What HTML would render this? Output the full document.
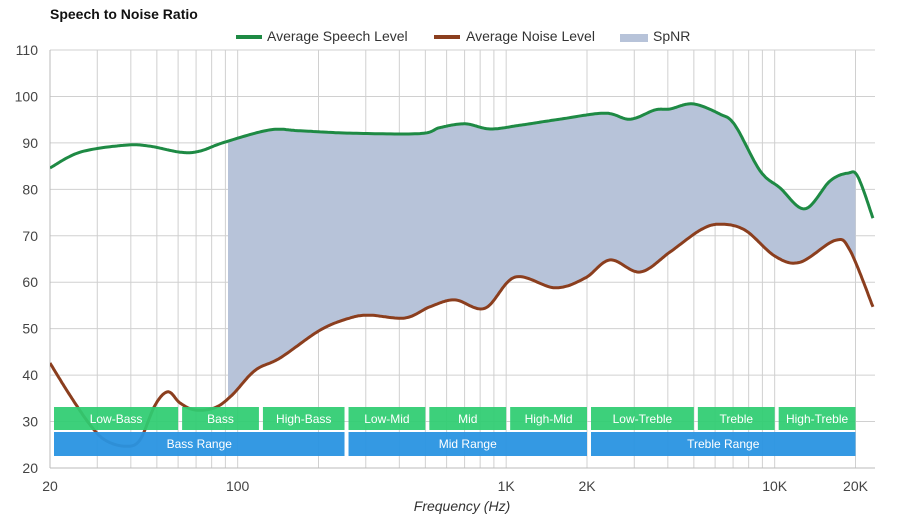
<!DOCTYPE html>
<html><head><meta charset="utf-8"><style>
body{margin:0;background:#fff;font-family:"Liberation Sans",sans-serif}
svg text{font-family:"Liberation Sans",sans-serif}
</style></head><body>
<svg id="c" width="900" height="520">
<defs><clipPath id="cp"><rect x="50" y="40" width="825" height="428"/></clipPath></defs>
<text x="50" y="19" font-size="14" font-weight="bold" fill="#111">Speech to Noise Ratio</text>
<g font-size="14" fill="#333">
<g><rect x="236" y="35" width="26" height="4" fill="#1e8a44"/><text x="267" y="41">Average Speech Level</text></g>
<g><rect x="434" y="35" width="26" height="4" fill="#8b3e1e"/><text x="466" y="41">Average Noise Level</text></g>
<g><rect x="620" y="34" width="28" height="8" fill="#b7c3d9"/><text x="653" y="41">SpNR</text></g>
</g>
<g id="grid"></g><g id="fill"></g><g id="lines"></g><g id="bands"></g><g id="axes"></g>
<text x="462" y="511" font-size="14" font-style="italic" text-anchor="middle" fill="#333">Frequency (Hz)</text>
</svg>
<script>
const speechF=[20,25.9,38,47,61,72,90,132,171,262,477,567,703,871,1125,1585,2333,2891,3583,4074,4963,6252,7117,8820,10470,12970,16070,18750,20420,23230];
const speechV=[84.6,88,89.5,89.3,88,88.2,90.2,92.8,92.6,92.1,92,93.3,94.1,93,93.8,95.1,96.4,95.1,97.1,97.3,98.4,96.2,93.8,84,80.3,75.8,81.8,83.5,82.7,73.8];
const noiseF=[20,23.7,28.2,32.1,38,43.2,49.2,55,61,69.3,82.4,95.3,116,144,203,262,311,420,520,644,834,1079,1521,1968,2438,3155,4074,5276,6252,7762,10030,12420,16790,19060,23230];
const noiseV=[42.6,35.7,29.3,26,24.7,26,33.5,36.4,34,32.5,33,35.7,41,43.7,49.7,52.3,52.9,52.3,54.7,56.2,54.4,61.1,58.8,60.9,64.8,62.2,66.5,71.2,72.5,71.2,65.6,64.3,69,66.9,54.7];
const yTicks=[20,30,40,50,60,70,80,90,100,110];
const xLabels=[[20,"20"],[100,"100"],[1000,"1K"],[2000,"2K"],[10000,"10K"],[20000,"20K"]];
const bandNames=["Low-Bass","Bass","High-Bass","Low-Mid","Mid","High-Mid","Low-Treble","Treble","High-Treble"];
const bandEdges=[20,60,120,250,500,1000,2000,5000,10000,20000];
const rangeNames=["Bass Range","Mid Range","Treble Range"];
const rangeEdges=[20,250,2000,20000];
const fillFrom=92,fillTo=20000;
const L=50,R=875,T=50,B=468,NS="http://www.w3.org/2000/svg";
const X=f=>L+(Math.log10(f)-Math.log10(20))*268.5;
const Y=v=>B-(v-20)*(B-T)/90;
function mk(p,t,a){const e=document.createElementNS(NS,t);for(const k in a)e.setAttribute(k,a[k]);p.appendChild(e);return e;}
const g=document.getElementById('grid');
yTicks.forEach(v=>{const l=mk(g,'line',{x1:L,x2:R,y1:Y(v),y2:Y(v),stroke:'#d0d0d0'});


const t=mk(g,'text',{x:38,y:Y(v)+5,'font-size':14,'text-anchor':'end',fill:'#444'});t.textContent=v;

});
for(let d=10;d<=10000;d*=10)for(let m=1;m<10;m++){const f=d*m;if(f<20||f>23000)continue;
const l=mk(g,'line',{x1:X(f),x2:X(f),y1:T,y2:B,stroke:'#d0d0d0'});

}
mk(g,'line',{x1:L,x2:L,y1:T,y2:B,stroke:'#bbb'});mk(g,'line',{x1:L,x2:R,y1:B,y2:B,stroke:'#bbb'});
xLabels.forEach(([f,s])=>{const t=mk(g,'text',{x:X(f),y:491,'font-size':14,'text-anchor':'middle',fill:'#444'});t.textContent=s;

});
function sample(F,V){const P=F.map((f,i)=>[X(f),Y(V[i])]);const out=[];
for(let i=0;i<P.length-1;i++){const p0=P[Math.max(0,i-1)],p1=P[i],p2=P[i+1],p3=P[Math.min(P.length-1,i+2)];
for(let s=0;s<20;s++){const t=s/20,t2=t*t,t3=t2*t;const c=(a,b,cc,d)=>0.5*(2*b+(-a+cc)*t+(2*a-5*b+4*cc-d)*t2+(-a+3*b-3*cc+d)*t3);
out.push([c(p0[0],p1[0],p2[0],p3[0]),c(p0[1],p1[1],p2[1],p3[1])]);}}
out.push(P[P.length-1]);return out;}
const sp=sample(speechF,speechV),np=sample(noiseF,noiseV);
const fx0=X(fillFrom),fx1=X(fillTo);
const clipX=pts=>pts.filter(p=>p[0]>=fx0&&p[0]<=fx1);
const interp=(pts,x)=>{for(let i=0;i<pts.length-1;i++)if(pts[i][0]<=x&&pts[i+1][0]>=x){const t=(x-pts[i][0])/(pts[i+1][0]-pts[i][0]||1);return pts[i][1]+t*(pts[i+1][1]-pts[i][1]);}return pts[pts.length-1][1];};
const topPts=[[fx0,interp(sp,fx0)],...clipX(sp),[fx1,interp(sp,fx1)]];
const botPts=[[fx0,interp(np,fx0)],...clipX(np),[fx1,interp(np,fx1)]].reverse();
const fp=mk(document.getElementById('fill'),'path',{d:'M'+topPts.concat(botPts).map(p=>p[0].toFixed(1)+','+p[1].toFixed(1)).join('L')+'Z',fill:'#b7c3d9'});


const lg=document.getElementById('lines');
const sl=mk(lg,'path',{d:'M'+sp.map(p=>p[0].toFixed(1)+','+p[1].toFixed(1)).join('L'),fill:'none',stroke:'#1e8a44','stroke-width':3,'clip-path':'url(#cp)'});


const nl=mk(lg,'path',{d:'M'+np.map(p=>p[0].toFixed(1)+','+p[1].toFixed(1)).join('L'),fill:'none',stroke:'#8b3e1e','stroke-width':3,'clip-path':'url(#cp)'});


const bg=document.getElementById('bands');
bandNames.forEach((n,i)=>{const a=X(bandEdges[i])+4,b=X(bandEdges[i+1]);
const r=mk(bg,'rect',{x:a,y:407,width:b-a,height:23,fill:'rgba(46,204,113,0.93)'});


const t=mk(bg,'text',{x:(a+b)/2,y:423,'font-size':12,'text-anchor':'middle',fill:'#fff'});t.textContent=n;

});
rangeNames.forEach((n,i)=>{const a=X(rangeEdges[i])+4,b=X(rangeEdges[i+1]);
const r=mk(bg,'rect',{x:a,y:432,width:b-a,height:24,fill:'rgba(41,147,226,0.95)'});


const t=mk(bg,'text',{x:(a+b)/2,y:448,'font-size':12,'text-anchor':'middle',fill:'#fff'});t.textContent=n;

});
</script>
</body></html>
